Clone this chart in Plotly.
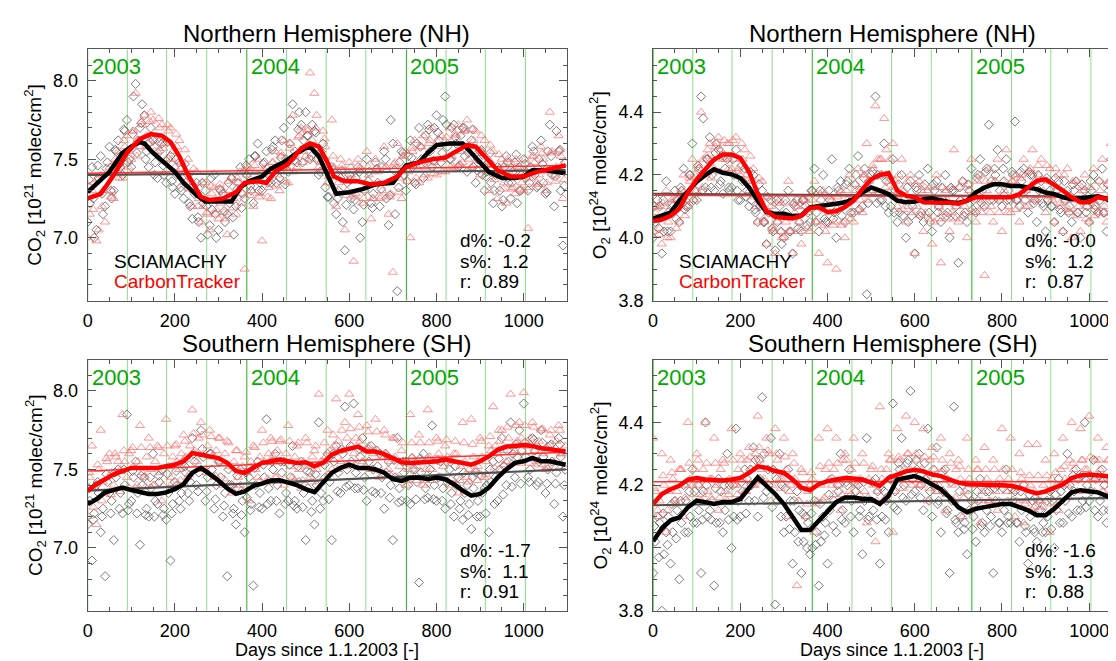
import plotly.graph_objects as go

FONT = "Liberation Sans, Arial, Helvetica, sans-serif"

# ---------------- data ----------------
sc_days = list(range(0, 1091, 10))          # scatter sample days (set a)
sc_days_b = list(range(5, 1096, 10))        # scatter sample days (set b)
sc_days_c = list(range(3, 1094, 10))        # scatter sample days (set c)
ln_days = list(range(0, 1081, 20)) + [1096]  # running-mean sample days

year_days = [0, 365, 731]
quarter_days = [91, 181, 273, 456, 547, 638, 822, 912, 1004]
year_labels = ["2003", "2004", "2005"]

# NH CO2
nh_co2_sci_days = [0, 50, 80, 100, 120, 130, 150, 170, 200, 220, 250, 270, 300, 330, 350, 370, 400, 420, 450, 480,
                   500, 510, 530, 550, 570, 600, 630, 660, 700, 730, 760, 780, 800, 830, 860, 880, 900, 920, 950, 980,
                   1000, 1020, 1050, 1096]
nh_co2_sci_line = [7.29, 7.42, 7.54, 7.58, 7.61, 7.60, 7.54, 7.49, 7.42, 7.35, 7.27, 7.23, 7.23, 7.23, 7.32, 7.36, 7.39, 7.44, 7.48, 7.54,
                   7.57, 7.58, 7.52, 7.40, 7.28, 7.29, 7.31, 7.34, 7.35, 7.46, 7.48, 7.54, 7.59, 7.60, 7.60, 7.54, 7.48, 7.42, 7.38, 7.38,
                   7.39, 7.43, 7.43, 7.41]
nh_co2_ct_days = [0, 30, 60, 90, 120, 145, 170, 190, 210, 230, 260, 280, 310, 340, 360, 390, 410, 430, 460, 490,
                  510, 530, 550, 565, 590, 620, 650, 680, 710, 730, 760, 790, 820, 850, 870, 890, 910, 940, 970, 1000,
                  1030, 1060, 1096]
nh_co2_ct_line = [7.25, 7.28, 7.40, 7.54, 7.63, 7.66, 7.65, 7.61, 7.52, 7.40, 7.26, 7.24, 7.25, 7.29, 7.35, 7.36, 7.35, 7.42, 7.47, 7.57,
                  7.60, 7.58, 7.48, 7.39, 7.36, 7.36, 7.34, 7.35, 7.39, 7.45, 7.48, 7.50, 7.51, 7.56, 7.59, 7.58, 7.52, 7.43, 7.39, 7.39,
                  7.42, 7.44, 7.46]
nh_co2_sci_pts = [7.10, 7.45, 7.05, 7.52, 7.20, 7.58, 7.30, 7.62, 7.40, 7.75,
                  7.45, 7.98, 7.70, 7.78, 7.45, 7.62, 7.38, 7.60, 7.35, 7.52,
                  7.28, 7.48, 7.25, 7.40, 7.12, 7.35, 7.00, 7.30, 7.08, 7.40,
                  7.05, 7.28, 7.15, 7.38, 7.20, 7.45, 7.25, 7.50, 7.22, 7.60,
                  7.30, 7.55, 7.35, 7.62, 7.38, 7.70, 7.42, 7.85, 7.48, 7.72,
                  7.80, 7.50, 7.68, 7.40, 7.60, 7.26, 7.45, 7.15, 7.38, 6.92,
                  7.40, 7.18, 7.45, 7.10, 7.50, 7.22, 7.48, 7.20, 7.55, 7.08,
                  7.60, 6.66, 7.55, 7.30, 7.62, 7.35, 7.70, 7.38, 7.72, 7.45,
                  7.78, 7.48, 7.90, 7.50, 7.72, 7.45, 7.70, 7.42, 7.62, 7.35,
                  7.55, 7.30, 7.48, 7.22, 7.45, 7.20, 7.52, 7.25, 7.48, 7.30,
                  7.50, 7.30, 7.58, 7.32, 7.62, 7.28, 7.72, 7.20, 7.55, 6.95]
nh_co2_sci_pts_b = [7.22, 7.00, 7.38, 7.15, 7.48, 7.25, 7.55, 7.45, 7.68, 7.50,
                    7.90, 7.62, 7.85, 7.55, 7.70, 7.48, 7.55, 7.40, 7.50, 7.32,
                    7.40, 7.30, 7.35, 7.20, 7.28, 7.10, 7.22, 7.02, 7.18, 7.00,
                    7.30, 7.10, 7.22, 7.02, 7.35, 7.28, 7.40, 7.30, 7.52, 7.35,
                    7.48, 7.40, 7.58, 7.45, 7.62, 7.50, 7.75, 7.55, 7.80, 7.62,
                    7.65, 7.72, 7.50, 7.55, 7.32, 7.40, 7.22, 7.30, 7.10, 7.35,
                    7.25, 7.38, 7.00, 7.30, 7.42, 7.28, 7.35, 7.45, 7.25, 7.75,
                    7.15, 7.48, 7.40, 7.52, 7.45, 7.60, 7.50, 7.65, 7.55, 7.70,
                    7.62, 7.75, 7.58, 7.70, 7.60, 7.65, 7.52, 7.58, 7.45, 7.50,
                    7.40, 7.42, 7.35, 7.40, 7.30, 7.45, 7.35, 7.42, 7.22, 7.40,
                    7.38, 7.45, 7.40, 7.50, 7.35, 7.55, 7.40, 7.68, 7.30, 7.48]
nh_co2_sci_pts_c = [7.37, 7.25, 7.46, 7.28, 7.44, 7.30, 7.56, 7.47, 7.69, 7.48,
                    7.66, 7.54, 7.73, 7.50, 7.61, 7.40, 7.61, 7.46, 7.61, 7.36,
                    7.50, 7.32, 7.47, 7.22, 7.33, 7.13, 7.35, 7.20, 7.38, 7.15,
                    7.31, 7.17, 7.35, 7.13, 7.31, 7.19, 7.46, 7.33, 7.52, 7.30,
                    7.47, 7.35, 7.56, 7.35, 7.51, 7.34, 7.60, 7.49, 7.69, 7.48,
                    7.65, 7.52, 7.67, 7.42, 7.50, 7.26, 7.43, 7.25, 7.43, 7.21,
                    7.37, 7.24, 7.42, 7.21, 7.36, 7.19, 7.44, 7.31, 7.50, 7.27,
                    7.43, 7.32, 7.54, 7.36, 7.51, 7.34, 7.58, 7.48, 7.69, 7.49,
                    7.67, 7.54, 7.72, 7.50, 7.64, 7.46, 7.70, 7.54, 7.69, 7.43,
                    7.56, 7.39, 7.54, 7.30, 7.43, 7.24, 7.48, 7.35, 7.53, 7.30,
                    7.47, 7.35, 7.55, 7.33, 7.47, 7.29, 7.52, 7.39, 7.56, 7.33]
nh_co2_ct_pts = [7.00, 7.30, 6.98, 7.40, 7.10, 7.45, 7.25, 7.55, 7.38, 7.65,
                 7.50, 7.92, 7.58, 7.78, 7.60, 7.75, 7.55, 7.72, 7.50, 7.70,
                 7.45, 7.62, 7.35, 7.50, 7.20, 7.42, 7.10, 7.35, 7.05, 7.32,
                 7.12, 7.30, 7.02, 7.38, 7.15, 7.42, 6.80, 7.45, 7.20, 7.50,
                 6.98, 7.45, 7.25, 7.55, 7.30, 7.62, 7.35, 7.78, 7.45, 7.70,
                 7.52, 8.05, 7.92, 7.45, 7.68, 7.35, 7.75, 7.20, 7.50, 7.05,
                 7.48, 6.85, 7.50, 7.22, 7.55, 7.12, 7.50, 7.25, 7.58, 7.15,
                 6.78, 7.60, 7.25, 7.55, 7.00, 7.62, 7.35, 7.65, 7.38, 7.70,
                 7.40, 7.65, 7.42, 7.70, 7.45, 7.72, 7.48, 7.75, 7.45, 7.68,
                 7.40, 7.62, 7.30, 7.55, 7.25, 7.50, 7.22, 7.48, 7.28, 7.45,
                 7.30, 7.06, 7.52, 7.35, 7.58, 7.30, 7.80, 7.40, 7.65, 7.25]
nh_co2_ct_pts_b = [7.15, 7.35, 7.05, 7.30, 7.40, 7.30, 7.48, 7.45, 7.58, 7.55,
                   7.68, 7.62, 7.72, 7.65, 7.80, 7.62, 7.70, 7.60, 7.68, 7.55,
                   7.58, 7.48, 7.42, 7.35, 7.30, 7.25, 7.20, 7.15, 7.28, 7.18,
                   7.22, 7.12, 7.30, 7.25, 7.35, 7.28, 7.40, 7.30, 7.42, 7.28,
                   7.40, 7.32, 7.48, 7.40, 7.52, 7.45, 7.60, 7.52, 7.65, 7.55,
                   7.68, 7.62, 7.78, 7.52, 7.58, 7.40, 7.45, 7.35, 7.42, 7.30,
                   7.40, 7.28, 7.45, 7.30, 7.40, 7.25, 7.42, 7.30, 7.45, 7.28,
                   7.48, 7.38, 7.52, 7.42, 7.55, 7.45, 7.58, 7.45, 7.62, 7.48,
                   7.58, 7.50, 7.60, 7.52, 7.65, 7.55, 7.68, 7.58, 7.62, 7.55,
                   7.55, 7.48, 7.48, 7.40, 7.45, 7.35, 7.42, 7.32, 7.45, 7.35,
                   7.42, 7.38, 7.48, 7.40, 7.50, 7.42, 7.55, 7.45, 7.52, 7.48]
nh_co2_ct_pts_c = [7.33, 7.18, 7.37, 7.20, 7.41, 7.26, 7.50, 7.38, 7.62, 7.45,
                   7.68, 7.52, 7.74, 7.58, 7.74, 7.55, 7.76, 7.57, 7.72, 7.50,
                   7.66, 7.44, 7.56, 7.31, 7.44, 7.20, 7.35, 7.16, 7.33, 7.15,
                   7.34, 7.16, 7.36, 7.19, 7.38, 7.22, 7.45, 7.27, 7.46, 7.26,
                   7.44, 7.26, 7.48, 7.33, 7.54, 7.36, 7.57, 7.42, 7.64, 7.48,
                   7.69, 7.50, 7.70, 7.48, 7.63, 7.39, 7.52, 7.29, 7.46, 7.27,
                   7.45, 7.26, 7.44, 7.25, 7.45, 7.25, 7.44, 7.26, 7.45, 7.26,
                   7.47, 7.29, 7.52, 7.36, 7.57, 7.38, 7.58, 7.40, 7.60, 7.41,
                   7.61, 7.42, 7.64, 7.45, 7.66, 7.47, 7.68, 7.50, 7.69, 7.49,
                   7.65, 7.43, 7.59, 7.37, 7.53, 7.31, 7.50, 7.31, 7.50, 7.31,
                   7.50, 7.32, 7.52, 7.34, 7.54, 7.35, 7.54, 7.36, 7.56, 7.37]
nh_co2_sci_trend = [7.40, 7.43]
nh_co2_ct_trend = [7.41, 7.46]

# NH O2
nh_o2_sci_line = [4.061, 4.070, 4.080, 4.118, 4.150, 4.178, 4.200, 4.218, 4.207, 4.202,
                  4.190, 4.160, 4.118, 4.082, 4.076, 4.076, 4.069, 4.071, 4.097, 4.100,
                  4.105, 4.108, 4.113, 4.123, 4.144, 4.160, 4.150, 4.139, 4.118, 4.113,
                  4.115, 4.123, 4.126, 4.118, 4.113, 4.111, 4.118, 4.144, 4.160, 4.170,
                  4.170, 4.165, 4.165, 4.160, 4.155, 4.144, 4.139, 4.129, 4.123, 4.126,
                  4.129, 4.132, 4.123, 4.105, 4.100, 4.100]
nh_o2_ct_line = [4.052, 4.058, 4.070, 4.092, 4.144, 4.186, 4.218, 4.249, 4.265, 4.265,
                 4.254, 4.210, 4.140, 4.085, 4.066, 4.064, 4.061, 4.070, 4.095, 4.097,
                 4.082, 4.084, 4.098, 4.118, 4.155, 4.186, 4.200, 4.206, 4.150, 4.134,
                 4.129, 4.113, 4.111, 4.111, 4.111, 4.108, 4.118, 4.129, 4.129, 4.129,
                 4.129, 4.129, 4.139, 4.160, 4.181, 4.186, 4.170, 4.150, 4.129, 4.113,
                 4.113, 4.129, 4.123, 4.126, 4.126, 4.126]
nh_o2_sci_pts = [4.00, 4.12, 3.95, 4.18, 4.02, 4.15, 4.05, 4.22, 4.10, 4.30,
                 4.12, 4.45, 4.16, 4.32, 4.15, 4.28, 4.14, 4.25, 4.16, 4.28,
                 4.12, 4.22, 4.10, 4.20, 4.05, 4.15, 3.98, 4.12, 3.96, 4.10,
                 4.00, 4.15, 3.95, 4.12, 4.02, 4.10, 4.05, 4.22, 4.02, 4.20,
                 4.05, 4.25, 4.00, 4.18, 4.05, 4.22, 4.08, 4.26, 4.10, 3.82,
                 4.20, 4.45, 4.12, 4.30, 4.08, 4.25, 4.05, 4.20, 4.00, 4.18,
                 3.95, 4.20, 4.05, 4.22, 4.02, 4.18, 4.05, 4.20, 4.00, 4.15,
                 3.92, 4.18, 4.05, 4.22, 4.08, 4.25, 4.10, 4.36, 4.12, 4.28,
                 4.10, 4.25, 4.12, 4.37, 4.10, 4.22, 4.08, 4.20, 4.05, 4.18,
                 4.02, 4.15, 4.05, 4.18, 4.02, 4.15, 4.05, 4.18, 4.00, 4.15,
                 4.05, 4.20, 4.08, 4.22, 4.02, 4.25, 3.95, 4.30, 4.05, 4.15]
nh_o2_sci_pts_b = [4.05, 4.10, 4.02, 4.08, 4.10, 4.12, 4.15, 4.10, 4.20, 4.15,
                   4.22, 4.38, 4.25, 4.20, 4.30, 4.18, 4.22, 4.15, 4.20, 4.12,
                   4.18, 4.15, 4.12, 4.08, 4.10, 4.05, 4.08, 4.02, 4.05, 3.98,
                   4.08, 4.02, 4.10, 4.05, 4.12, 4.08, 4.15, 4.08, 4.12, 4.05,
                   4.12, 4.08, 4.15, 4.10, 4.18, 4.12, 4.20, 4.15, 4.22, 4.18,
                   4.15, 4.20, 4.12, 4.18, 4.10, 4.15, 4.08, 4.12, 4.05, 4.10,
                   4.15, 4.08, 4.12, 4.05, 4.15, 4.10, 4.12, 4.08, 4.15, 4.10,
                   4.12, 4.08, 4.15, 4.12, 4.20, 4.15, 4.22, 4.18, 4.20, 4.15,
                   4.18, 4.15, 4.20, 4.12, 4.18, 4.15, 4.20, 4.12, 4.15, 4.10,
                   4.12, 4.10, 4.15, 4.08, 4.12, 4.10, 4.15, 4.08, 4.12, 4.10,
                   4.15, 4.10, 4.12, 4.08, 4.15, 4.10, 4.12, 4.08, 4.10, 4.05]
nh_o2_sci_pts_c = [4.10, 4.03, 4.12, 4.02, 4.11, 4.06, 4.16, 4.09, 4.20, 4.12,
                   4.23, 4.15, 4.25, 4.16, 4.27, 4.17, 4.26, 4.16, 4.25, 4.15,
                   4.23, 4.13, 4.21, 4.09, 4.17, 4.05, 4.13, 4.03, 4.12, 4.02,
                   4.12, 4.02, 4.11, 4.03, 4.12, 4.04, 4.15, 4.05, 4.15, 4.06,
                   4.15, 4.06, 4.16, 4.07, 4.17, 4.08, 4.17, 4.09, 4.19, 4.11,
                   4.21, 4.11, 4.20, 4.10, 4.19, 4.08, 4.17, 4.07, 4.16, 4.07,
                   4.16, 4.07, 4.17, 4.08, 4.17, 4.08, 4.16, 4.07, 4.16, 4.07,
                   4.16, 4.07, 4.17, 4.09, 4.19, 4.11, 4.21, 4.12, 4.22, 4.12,
                   4.22, 4.12, 4.21, 4.12, 4.21, 4.12, 4.21, 4.11, 4.20, 4.11,
                   4.19, 4.10, 4.19, 4.09, 4.18, 4.08, 4.17, 4.08, 4.17, 4.08,
                   4.18, 4.09, 4.18, 4.08, 4.17, 4.07, 4.15, 4.05, 4.15, 4.06]
nh_o2_ct_pts = [4.02, 4.10, 3.98, 4.15, 4.00, 4.12, 4.05, 4.20, 4.10, 4.25,
                4.15, 4.40, 4.20, 4.30, 4.22, 4.32, 4.25, 4.30, 4.22, 4.32,
                4.20, 4.28, 4.15, 4.22, 4.05, 4.18, 3.98, 4.10, 3.95, 4.12,
                4.00, 4.18, 3.95, 4.10, 3.98, 4.12, 4.02, 4.18, 3.95, 4.15,
                3.92, 4.12, 3.90, 4.15, 4.00, 4.20, 4.05, 4.22, 4.08, 4.30,
                4.15, 4.42, 4.25, 4.38, 4.18, 4.30, 4.10, 4.25, 4.05, 4.20,
                3.95, 4.18, 4.02, 4.15, 3.98, 4.20, 3.92, 4.15, 4.02, 4.28,
                4.05, 4.18, 4.00, 4.25, 4.05, 4.20, 3.88, 4.22, 4.05, 4.25,
                4.02, 4.28, 4.08, 4.20, 4.05, 4.25, 4.10, 4.28, 4.12, 4.25,
                4.08, 4.22, 4.05, 4.20, 4.02, 4.22, 4.00, 4.18, 4.02, 4.20,
                4.05, 4.22, 4.08, 4.25, 4.05, 4.30, 4.08, 4.35, 4.10, 4.20]
nh_o2_ct_pts_b = [4.08, 4.03, 4.10, 4.05, 4.08, 4.12, 4.15, 4.12, 4.18, 4.20,
                  4.22, 4.25, 4.28, 4.25, 4.30, 4.28, 4.25, 4.30, 4.25, 4.22,
                  4.25, 4.20, 4.18, 4.10, 4.12, 4.05, 4.08, 4.02, 4.05, 4.00,
                  4.05, 4.02, 4.08, 4.05, 4.10, 4.08, 4.12, 4.05, 4.10, 4.02,
                  4.08, 4.05, 4.10, 4.05, 4.12, 4.08, 4.15, 4.12, 4.20, 4.18,
                  4.22, 4.25, 4.20, 4.28, 4.15, 4.18, 4.12, 4.15, 4.10, 4.12,
                  4.10, 4.15, 4.08, 4.12, 4.05, 4.10, 4.08, 4.12, 4.08, 4.10,
                  4.12, 4.10, 4.15, 4.08, 4.12, 4.10, 4.15, 4.10, 4.18, 4.12,
                  4.15, 4.10, 4.18, 4.12, 4.20, 4.15, 4.22, 4.18, 4.20, 4.15,
                  4.18, 4.12, 4.15, 4.10, 4.12, 4.08, 4.12, 4.10, 4.15, 4.10,
                  4.12, 4.10, 4.15, 4.10, 4.18, 4.12, 4.15, 4.10, 4.18, 4.12]
nh_o2_ct_pts_c = [4.10, 4.01, 4.11, 4.00, 4.12, 4.03, 4.14, 4.07, 4.19, 4.12,
                  4.23, 4.16, 4.26, 4.19, 4.29, 4.21, 4.31, 4.22, 4.31, 4.21,
                  4.30, 4.18, 4.26, 4.13, 4.19, 4.06, 4.13, 4.03, 4.11, 4.02,
                  4.11, 4.02, 4.11, 4.02, 4.12, 4.03, 4.14, 4.05, 4.14, 4.04,
                  4.13, 4.04, 4.13, 4.04, 4.15, 4.06, 4.17, 4.09, 4.20, 4.12,
                  4.23, 4.15, 4.25, 4.16, 4.25, 4.13, 4.20, 4.09, 4.18, 4.08,
                  4.17, 4.07, 4.16, 4.06, 4.16, 4.06, 4.16, 4.06, 4.16, 4.06,
                  4.16, 4.07, 4.17, 4.08, 4.18, 4.08, 4.18, 4.08, 4.18, 4.08,
                  4.18, 4.08, 4.18, 4.09, 4.19, 4.10, 4.21, 4.12, 4.23, 4.14,
                  4.23, 4.13, 4.22, 4.11, 4.20, 4.09, 4.18, 4.07, 4.16, 4.06,
                  4.16, 4.07, 4.18, 4.08, 4.17, 4.08, 4.17, 4.08, 4.17, 4.08]
nh_o2_sci_trend = [4.140, 4.130]
nh_o2_ct_trend = [4.135, 4.130]

# SH CO2
sh_co2_sci_line = [7.280, 7.310, 7.354, 7.369, 7.385, 7.369, 7.354, 7.344, 7.344, 7.354,
                   7.375, 7.406, 7.479, 7.510, 7.470, 7.430, 7.380, 7.345, 7.360, 7.395,
                   7.410, 7.430, 7.432, 7.415, 7.400, 7.375, 7.355, 7.417, 7.479, 7.510,
                   7.531, 7.510, 7.510, 7.500, 7.479, 7.438, 7.427, 7.448, 7.448, 7.438,
                   7.448, 7.438, 7.406, 7.365, 7.333, 7.344, 7.385, 7.448, 7.500, 7.542,
                   7.552, 7.573, 7.552, 7.552, 7.542, 7.530]
sh_co2_ct_line = [7.365, 7.406, 7.438, 7.469, 7.490, 7.510, 7.510, 7.510, 7.510, 7.520,
                  7.531, 7.552, 7.604, 7.594, 7.583, 7.573, 7.542, 7.490, 7.479, 7.510,
                  7.542, 7.552, 7.563, 7.552, 7.542, 7.546, 7.520, 7.542, 7.594, 7.619,
                  7.635, 7.646, 7.615, 7.615, 7.598, 7.573, 7.546, 7.542, 7.548, 7.548,
                  7.552, 7.563, 7.552, 7.542, 7.531, 7.552, 7.583, 7.625, 7.646, 7.650,
                  7.656, 7.650, 7.635, 7.629, 7.625, 7.615]
sh_co2_sci_pts = [7.15, 6.92, 7.40, 7.10, 6.82, 7.35, 7.05, 7.50, 7.22, 7.85,
                  7.30, 7.55, 7.02, 7.45, 7.20, 7.60, 7.28, 7.50, 7.18, 6.92,
                  7.42, 7.30, 7.55, 7.35, 7.70, 7.40, 7.75, 7.30, 7.60, 7.25,
                  7.55, 7.20, 6.82, 7.40, 7.15, 7.50, 7.10, 7.45, 6.76, 7.55,
                  7.25, 7.82, 7.30, 7.60, 7.22, 7.55, 7.30, 7.65, 7.25, 7.55,
                  7.05, 7.48, 7.15, 7.80, 7.30, 7.60, 7.05, 7.65, 7.35, 7.90,
                  7.40, 7.92, 7.38, 7.70, 7.30, 7.65, 7.35, 7.60, 7.25, 7.55,
                  7.05, 7.70, 7.30, 7.55, 7.28, 7.50, 6.78, 7.60, 7.32, 7.78,
                  7.30, 7.55, 7.25, 7.50, 7.20, 7.45, 7.18, 7.40, 7.12, 7.48,
                  7.20, 7.38, 7.10, 7.55, 7.30, 7.70, 7.40, 7.80, 7.45, 7.75,
                  7.92, 7.45, 7.70, 7.40, 7.75, 7.35, 7.65, 7.28, 7.70, 7.20]
sh_co2_sci_pts_b = [7.30, 7.22, 7.35, 7.25, 7.42, 7.30, 7.45, 7.35, 7.40, 7.28,
                    7.45, 7.35, 7.40, 7.25, 7.38, 7.30, 7.42, 7.25, 7.35, 7.28,
                    7.40, 7.35, 7.48, 7.42, 7.55, 7.48, 7.58, 7.45, 7.50, 7.40,
                    7.45, 7.35, 7.40, 7.25, 7.38, 7.30, 7.32, 7.28, 7.40, 7.35,
                    7.45, 7.38, 7.50, 7.40, 7.48, 7.35, 7.45, 7.30, 7.42, 7.35,
                    7.38, 7.30, 7.40, 7.35, 7.45, 7.42, 7.55, 7.48, 7.60, 7.50,
                    7.55, 7.48, 7.58, 7.45, 7.55, 7.50, 7.52, 7.45, 7.48, 7.40,
                    7.45, 7.38, 7.48, 7.40, 7.50, 7.42, 7.48, 7.38, 7.50, 7.40,
                    7.45, 7.38, 7.42, 7.35, 7.40, 7.30, 7.35, 7.28, 7.38, 7.30,
                    7.35, 7.40, 7.42, 7.45, 7.50, 7.52, 7.55, 7.60, 7.58, 7.62,
                    7.58, 7.50, 7.62, 7.55, 7.58, 7.50, 7.55, 7.48, 7.58, 7.50]
sh_co2_sci_pts_c = [7.38, 7.18, 7.42, 7.20, 7.47, 7.22, 7.48, 7.25, 7.50, 7.24,
                    7.49, 7.22, 7.46, 7.21, 7.45, 7.20, 7.46, 7.21, 7.47, 7.22,
                    7.49, 7.25, 7.52, 7.30, 7.60, 7.36, 7.63, 7.36, 7.60, 7.31,
                    7.55, 7.27, 7.50, 7.22, 7.46, 7.21, 7.48, 7.24, 7.51, 7.26,
                    7.53, 7.28, 7.55, 7.30, 7.55, 7.28, 7.53, 7.27, 7.52, 7.26,
                    7.49, 7.23, 7.47, 7.25, 7.53, 7.31, 7.60, 7.36, 7.63, 7.39,
                    7.65, 7.38, 7.63, 7.37, 7.63, 7.36, 7.62, 7.35, 7.60, 7.32,
                    7.56, 7.29, 7.55, 7.30, 7.57, 7.31, 7.57, 7.31, 7.56, 7.31,
                    7.56, 7.30, 7.55, 7.28, 7.52, 7.25, 7.48, 7.21, 7.45, 7.20,
                    7.46, 7.22, 7.50, 7.28, 7.57, 7.34, 7.62, 7.39, 7.66, 7.41,
                    7.67, 7.42, 7.69, 7.42, 7.67, 7.41, 7.66, 7.41, 7.66, 7.40]
sh_co2_ct_pts = [7.20, 7.65, 7.15, 7.75, 7.35, 7.60, 7.40, 7.55, 7.85, 7.45,
                 7.62, 7.38, 7.78, 7.45, 7.70, 7.40, 7.65, 7.30, 7.82, 7.45,
                 7.65, 7.50, 7.72, 7.45, 7.88, 7.55, 7.80, 7.50, 7.75, 7.45,
                 7.70, 7.40, 7.68, 7.35, 7.62, 7.40, 7.58, 7.30, 7.65, 7.45,
                 7.75, 7.42, 7.70, 7.45, 7.68, 7.40, 7.78, 7.45, 7.65, 7.38,
                 7.70, 7.45, 7.62, 7.98, 7.55, 7.75, 7.50, 7.95, 7.55, 7.80,
                 7.98, 7.60, 7.85, 7.55, 7.78, 7.50, 7.82, 7.45, 7.75, 7.50,
                 7.70, 7.45, 7.62, 7.40, 7.85, 7.45, 7.72, 7.40, 7.88, 7.50,
                 7.70, 7.45, 7.65, 7.40, 7.60, 7.35, 7.80, 7.45, 7.82, 7.50,
                 7.70, 7.45, 7.65, 7.90, 7.60, 7.75, 7.55, 7.98, 7.62, 7.80,
                 7.99, 7.65, 7.80, 7.55, 7.75, 7.50, 7.72, 7.55, 7.78, 7.60]
sh_co2_ct_pts_b = [7.45, 7.38, 7.50, 7.42, 7.55, 7.48, 7.58, 7.50, 7.55, 7.60,
                   7.52, 7.55, 7.48, 7.58, 7.50, 7.55, 7.48, 7.60, 7.52, 7.58,
                   7.55, 7.60, 7.58, 7.65, 7.62, 7.70, 7.60, 7.65, 7.58, 7.62,
                   7.55, 7.60, 7.52, 7.55, 7.45, 7.52, 7.48, 7.55, 7.50, 7.58,
                   7.55, 7.60, 7.58, 7.62, 7.55, 7.60, 7.52, 7.58, 7.50, 7.55,
                   7.52, 7.58, 7.50, 7.55, 7.58, 7.62, 7.65, 7.68, 7.62, 7.70,
                   7.65, 7.70, 7.68, 7.62, 7.65, 7.60, 7.62, 7.58, 7.60, 7.55,
                   7.58, 7.52, 7.55, 7.50, 7.58, 7.52, 7.55, 7.50, 7.58, 7.55,
                   7.60, 7.52, 7.58, 7.55, 7.60, 7.52, 7.55, 7.50, 7.58, 7.52,
                   7.58, 7.55, 7.62, 7.65, 7.68, 7.62, 7.70, 7.65, 7.68, 7.70,
                   7.65, 7.70, 7.62, 7.68, 7.60, 7.65, 7.62, 7.68, 7.60, 7.65]
sh_co2_ct_pts_c = [7.48, 7.26, 7.53, 7.30, 7.57, 7.34, 7.60, 7.36, 7.62, 7.39,
                   7.64, 7.40, 7.64, 7.39, 7.64, 7.40, 7.64, 7.40, 7.65, 7.41,
                   7.66, 7.43, 7.68, 7.47, 7.73, 7.50, 7.72, 7.48, 7.71, 7.46,
                   7.70, 7.44, 7.67, 7.40, 7.62, 7.37, 7.61, 7.39, 7.64, 7.42,
                   7.67, 7.44, 7.68, 7.45, 7.69, 7.44, 7.68, 7.43, 7.67, 7.43,
                   7.67, 7.42, 7.65, 7.42, 7.67, 7.47, 7.72, 7.50, 7.75, 7.52,
                   7.76, 7.53, 7.77, 7.51, 7.74, 7.50, 7.74, 7.49, 7.72, 7.47,
                   7.70, 7.44, 7.67, 7.43, 7.67, 7.43, 7.67, 7.43, 7.67, 7.43,
                   7.68, 7.45, 7.69, 7.44, 7.68, 7.43, 7.67, 7.42, 7.66, 7.43,
                   7.68, 7.47, 7.71, 7.51, 7.75, 7.53, 7.77, 7.54, 7.78, 7.54,
                   7.78, 7.54, 7.77, 7.53, 7.76, 7.52, 7.75, 7.51, 7.75, 7.51]
sh_co2_sci_trend = [7.365, 7.500]
sh_co2_ct_trend = [7.490, 7.610]

# SH O2
sh_o2_sci_line = [4.021, 4.062, 4.088, 4.097, 4.130, 4.151, 4.146, 4.140, 4.146, 4.146,
                  4.156, 4.192, 4.225, 4.198, 4.172, 4.140, 4.099, 4.057, 4.057, 4.088,
                  4.120, 4.146, 4.161, 4.161, 4.156, 4.156, 4.140, 4.166, 4.218, 4.223,
                  4.229, 4.218, 4.203, 4.187, 4.161, 4.130, 4.114, 4.125, 4.130, 4.135,
                  4.140, 4.140, 4.130, 4.120, 4.104, 4.104, 4.125, 4.151, 4.177, 4.184,
                  4.180, 4.177, 4.166, 4.156, 4.156, 4.156]
sh_o2_ct_line = [4.140, 4.172, 4.187, 4.198, 4.218, 4.223, 4.218, 4.215, 4.215, 4.218,
                 4.223, 4.239, 4.260, 4.255, 4.245, 4.239, 4.218, 4.192, 4.184, 4.203,
                 4.213, 4.218, 4.223, 4.221, 4.218, 4.208, 4.198, 4.223, 4.234, 4.244,
                 4.249, 4.244, 4.234, 4.229, 4.218, 4.208, 4.203, 4.203, 4.203, 4.200,
                 4.200, 4.198, 4.192, 4.182, 4.174, 4.180, 4.192, 4.203, 4.223, 4.231,
                 4.234, 4.231, 4.229, 4.223, 4.223, 4.223]
sh_o2_sci_pts = [3.92, 4.10, 3.80, 4.05, 3.95, 4.15, 3.90, 4.20, 4.05, 4.25,
                 4.08, 3.92, 4.40, 4.12, 3.88, 4.22, 4.05, 4.30, 4.00, 4.38,
                 4.10, 4.25, 4.15, 4.32, 4.10, 4.48, 4.18, 4.35, 3.82, 4.30,
                 4.05, 4.25, 3.95, 4.18, 3.92, 4.10, 3.98, 4.15, 3.88, 4.10,
                 3.95, 4.22, 4.05, 4.30, 4.08, 4.25, 4.05, 4.20, 3.98, 4.35,
                 4.05, 4.22, 3.95, 4.18, 4.05, 4.46, 4.12, 4.35, 4.15, 4.50,
                 4.18, 4.30, 4.12, 4.38, 4.10, 4.32, 4.05, 4.25, 3.92, 4.45,
                 4.05, 4.20, 3.98, 4.15, 4.02, 4.22, 4.05, 4.18, 3.92, 4.20,
                 4.05, 4.25, 4.08, 4.18, 4.02, 4.20, 3.95, 4.15, 4.02, 4.12,
                 4.05, 4.18, 4.00, 4.22, 4.08, 4.30, 4.10, 4.25, 4.12, 4.40,
                 4.15, 4.28, 4.10, 4.25, 4.08, 4.22, 3.98, 4.20, 4.05, 4.15]
sh_o2_sci_pts_b = [4.02, 4.08, 3.98, 4.10, 4.05, 4.12, 4.08, 4.15, 4.10, 4.18,
                   4.12, 4.18, 4.10, 4.15, 4.08, 4.18, 4.12, 4.20, 4.10, 4.15,
                   4.18, 4.22, 4.20, 4.28, 4.22, 4.30, 4.20, 4.25, 4.15, 4.20,
                   4.10, 4.15, 4.05, 4.12, 4.02, 4.08, 4.00, 4.05, 4.02, 4.08,
                   4.12, 4.15, 4.18, 4.12, 4.20, 4.15, 4.18, 4.12, 4.15, 4.10,
                   4.12, 4.18, 4.10, 4.15, 4.22, 4.18, 4.25, 4.20, 4.28, 4.22,
                   4.25, 4.20, 4.22, 4.18, 4.20, 4.15, 4.18, 4.12, 4.15, 4.08,
                   4.10, 4.08, 4.12, 4.10, 4.15, 4.08, 4.12, 4.10, 4.15, 4.08,
                   4.12, 4.10, 4.15, 4.08, 4.12, 4.05, 4.10, 4.05, 4.12, 4.08,
                   4.10, 4.15, 4.12, 4.18, 4.15, 4.20, 4.18, 4.22, 4.15, 4.20,
                   4.18, 4.22, 4.15, 4.20, 4.12, 4.18, 4.12, 4.15, 4.10, 4.18]
sh_o2_sci_pts_c = [4.07, 3.97, 4.11, 4.01, 4.14, 4.03, 4.15, 4.05, 4.18, 4.08,
                   4.20, 4.09, 4.20, 4.09, 4.19, 4.08, 4.20, 4.09, 4.20, 4.09,
                   4.21, 4.11, 4.25, 4.15, 4.28, 4.16, 4.25, 4.13, 4.22, 4.10,
                   4.19, 4.06, 4.15, 4.02, 4.11, 4.00, 4.11, 4.01, 4.14, 4.04,
                   4.17, 4.07, 4.20, 4.09, 4.21, 4.10, 4.21, 4.10, 4.21, 4.09,
                   4.21, 4.09, 4.19, 4.09, 4.22, 4.13, 4.27, 4.16, 4.27, 4.17,
                   4.28, 4.16, 4.27, 4.15, 4.25, 4.14, 4.24, 4.11, 4.21, 4.09,
                   4.18, 4.06, 4.17, 4.06, 4.18, 4.07, 4.18, 4.07, 4.19, 4.08,
                   4.19, 4.08, 4.19, 4.08, 4.18, 4.07, 4.17, 4.06, 4.15, 4.05,
                   4.15, 4.06, 4.17, 4.08, 4.20, 4.11, 4.23, 4.12, 4.23, 4.13,
                   4.23, 4.12, 4.23, 4.12, 4.22, 4.11, 4.21, 4.10, 4.21, 4.10]
sh_o2_ct_pts = [4.35, 4.12, 4.30, 4.05, 4.28, 4.15, 4.25, 4.10, 4.40, 4.20,
                4.30, 4.15, 4.40, 4.22, 4.35, 4.12, 4.28, 4.15, 4.38, 4.20,
                4.30, 4.18, 4.32, 4.20, 4.42, 4.25, 4.35, 4.15, 4.38, 4.22,
                4.35, 4.10, 4.30, 3.88, 4.25, 4.10, 4.20, 4.05, 4.35, 4.15,
                4.38, 4.20, 4.35, 4.12, 4.30, 4.18, 4.35, 4.15, 4.30, 4.08,
                4.25, 4.02, 4.45, 4.15, 4.30, 4.05, 4.38, 4.22, 4.42, 4.25,
                4.40, 4.20, 4.38, 4.15, 4.32, 4.18, 4.35, 4.12, 4.30, 4.15,
                4.28, 4.10, 4.35, 4.12, 4.28, 4.08, 4.32, 4.15, 4.28, 4.12,
                4.38, 4.18, 4.35, 4.10, 4.30, 4.08, 4.33, 4.12, 4.33, 4.15,
                4.28, 4.05, 4.30, 4.12, 4.35, 4.20, 4.40, 4.22, 4.38, 4.25,
                4.42, 4.22, 4.35, 4.18, 4.32, 4.20, 4.30, 4.22, 4.28, 4.20]
sh_o2_ct_pts_b = [4.18, 4.15, 4.20, 4.18, 4.22, 4.18, 4.25, 4.20, 4.22, 4.25,
                  4.20, 4.25, 4.18, 4.22, 4.20, 4.25, 4.18, 4.22, 4.20, 4.25,
                  4.22, 4.28, 4.25, 4.30, 4.28, 4.22, 4.30, 4.25, 4.28, 4.22,
                  4.25, 4.20, 4.22, 4.15, 4.20, 4.18, 4.22, 4.15, 4.20, 4.25,
                  4.22, 4.25, 4.20, 4.28, 4.22, 4.25, 4.20, 4.22, 4.18, 4.22,
                  4.20, 4.18, 4.22, 4.25, 4.28, 4.22, 4.28, 4.25, 4.30, 4.22,
                  4.28, 4.25, 4.22, 4.28, 4.25, 4.20, 4.25, 4.22, 4.20, 4.25,
                  4.22, 4.18, 4.22, 4.20, 4.25, 4.18, 4.22, 4.20, 4.18, 4.22,
                  4.20, 4.22, 4.18, 4.20, 4.22, 4.15, 4.20, 4.18, 4.15, 4.20,
                  4.18, 4.22, 4.20, 4.25, 4.22, 4.28, 4.25, 4.22, 4.28, 4.25,
                  4.22, 4.28, 4.25, 4.22, 4.28, 4.25, 4.22, 4.28, 4.25, 4.20]
sh_o2_ct_pts_c = [4.19, 4.10, 4.23, 4.12, 4.24, 4.14, 4.25, 4.16, 4.27, 4.17,
                  4.28, 4.17, 4.27, 4.16, 4.27, 4.16, 4.27, 4.17, 4.28, 4.17,
                  4.28, 4.18, 4.29, 4.20, 4.32, 4.21, 4.31, 4.20, 4.30, 4.19,
                  4.29, 4.18, 4.27, 4.15, 4.24, 4.14, 4.24, 4.14, 4.26, 4.16,
                  4.27, 4.17, 4.27, 4.17, 4.28, 4.17, 4.27, 4.17, 4.27, 4.16,
                  4.26, 4.15, 4.25, 4.16, 4.28, 4.18, 4.29, 4.19, 4.30, 4.20,
                  4.30, 4.20, 4.29, 4.19, 4.29, 4.18, 4.28, 4.17, 4.27, 4.16,
                  4.26, 4.16, 4.25, 4.15, 4.25, 4.15, 4.25, 4.15, 4.25, 4.15,
                  4.25, 4.15, 4.25, 4.15, 4.24, 4.14, 4.23, 4.13, 4.23, 4.13,
                  4.23, 4.14, 4.24, 4.15, 4.26, 4.16, 4.27, 4.18, 4.28, 4.18,
                  4.29, 4.18, 4.28, 4.18, 4.28, 4.18, 4.28, 4.18, 4.28, 4.18]
sh_o2_sci_trend = [4.136, 4.160]
sh_o2_ct_trend = [4.211, 4.211]

trend_days = [0, 1096]

titles = ["Northern Hemisphere (NH)", "Northern Hemisphere (NH)",
          "Southern Hemisphere (SH)", "Southern Hemisphere (SH)"]
stat_d = ["-0.2", "-0.0", "-1.7", "-1.6"]
stat_s = ["1.2", "1.2", "1.1", "1.3"]
stat_r = ["0.89", "0.87", "0.91", "0.88"]

co2_title = "CO<sub>2</sub> [10<sup>21</sup> molec/cm<sup>2</sup>]"
o2_title = "O<sub>2</sub> [10<sup>24</sup> molec/cm<sup>2</sup>]"
xlabel = "Days since 1.1.2003 [-]"

all_sc_days = sc_days + sc_days_b + sc_days_c
panels = [
    dict(sci_x=nh_co2_sci_days, sci_l=nh_co2_sci_line, ct_x=nh_co2_ct_days, ct_l=nh_co2_ct_line,
         sci_p=nh_co2_sci_pts + nh_co2_sci_pts_b + nh_co2_sci_pts_c,
         ct_p=nh_co2_ct_pts + nh_co2_ct_pts_b + nh_co2_ct_pts_c,
         sci_t=nh_co2_sci_trend, ct_t=nh_co2_ct_trend),
    dict(sci_x=ln_days, sci_l=nh_o2_sci_line, ct_x=ln_days, ct_l=nh_o2_ct_line,
         sci_p=nh_o2_sci_pts + nh_o2_sci_pts_b + nh_o2_sci_pts_c,
         ct_p=nh_o2_ct_pts + nh_o2_ct_pts_b + nh_o2_ct_pts_c,
         sci_t=nh_o2_sci_trend, ct_t=nh_o2_ct_trend),
    dict(sci_x=ln_days, sci_l=sh_co2_sci_line, ct_x=ln_days, ct_l=sh_co2_ct_line,
         sci_p=sh_co2_sci_pts + sh_co2_sci_pts_b + sh_co2_sci_pts_c,
         ct_p=sh_co2_ct_pts + sh_co2_ct_pts_b + sh_co2_ct_pts_c,
         sci_t=sh_co2_sci_trend, ct_t=sh_co2_ct_trend),
    dict(sci_x=ln_days, sci_l=sh_o2_sci_line, ct_x=ln_days, ct_l=sh_o2_ct_line,
         sci_p=sh_o2_sci_pts + sh_o2_sci_pts_b + sh_o2_sci_pts_c,
         ct_p=sh_o2_ct_pts + sh_o2_ct_pts_b + sh_o2_ct_pts_c,
         sci_t=sh_o2_sci_trend, ct_t=sh_o2_ct_trend),
]

# ---------------- layout geometry (pixels) ----------------
W, H = 1116, 661
PX_PER_DAY = 0.438
cols = [(75, 556), (643, 1116)]
rows = [(42, 297), (357, 612)]
AX = "#555555"
STAT_Y = [0.239, 0.157, 0.075]

fig = go.Figure()
annotations = []
shapes = []
layout_axes = {}

for i, p in enumerate(panels):
    r, c = divmod(i, 2)
    n = "" if i == 0 else str(i + 1)
    xa, ya = "x" + n, "y" + n
    x0p, x1p = cols[c]
    y0p, y1p = rows[r]
    xmax = (x1p - x0p) / PX_PER_DAY
    is_co2 = (c == 0)

    fig.add_trace(go.Scatter(x=all_sc_days, y=p["sci_p"], mode="markers", xaxis=xa, yaxis=ya,
                             marker=dict(symbol="diamond-open", size=7, color="rgba(90,90,90,0.8)",
                                         line=dict(width=1)), showlegend=False))
    fig.add_trace(go.Scatter(x=all_sc_days, y=p["ct_p"], mode="markers", xaxis=xa, yaxis=ya,
                             marker=dict(symbol="triangle-up-open", size=8, color="rgba(255,105,105,0.7)",
                                         line=dict(width=1)), showlegend=False))
    fig.add_trace(go.Scatter(x=trend_days, y=p["sci_t"], mode="lines", xaxis=xa, yaxis=ya,
                             line=dict(color="#505050", width=2.2), showlegend=False))
    fig.add_trace(go.Scatter(x=trend_days, y=p["ct_t"], mode="lines", xaxis=xa, yaxis=ya,
                             line=dict(color="#ff3030", width=1.5), showlegend=False))
    fig.add_trace(go.Scatter(x=p["sci_x"], y=p["sci_l"], mode="lines", xaxis=xa, yaxis=ya,
                             line=dict(color="black", width=4.5), showlegend=False))
    fig.add_trace(go.Scatter(x=p["ct_x"], y=p["ct_l"], mode="lines", xaxis=xa, yaxis=ya,
                             line=dict(color="#ff0000", width=4.5), showlegend=False))

    if is_co2:
        yr, tv, mdt = [6.6, 8.2], [7.0, 7.5, 8.0], 0.1
        ytitle = co2_title
    else:
        yr, tv, mdt = [3.8, 4.6], [3.8, 4.0, 4.2, 4.4], 0.05
        ytitle = o2_title

    common = dict(showline=True, linecolor=AX, linewidth=1, ticks="inside", ticklen=8,
                  tickcolor=AX, showgrid=False, zeroline=False,
                  tickfont=dict(family=FONT, size=18, color="black"))
    layout_axes["xaxis" + n] = dict(
        domain=[x0p / W, x1p / W], range=[0, xmax], anchor=ya, mirror="ticks",
        tickvals=[0, 200, 400, 600, 800, 1000], ticklabelstandoff=4,
        minor=dict(dtick=50, tick0=0, ticks="inside", ticklen=4, tickcolor=AX),
        **common)
    layout_axes["yaxis" + n] = dict(
        domain=[1 - y1p / H, 1 - y0p / H], range=yr, anchor=xa,
        mirror="ticks" if c == 0 else False,
        tickvals=tv, tickformat=".1f", ticklabelstandoff=5,
        minor=dict(dtick=mdt, tick0=yr[0], ticks="inside", ticklen=4, tickcolor=AX),
        **common)

    # green year / quarter lines
    for d in quarter_days:
        shapes.append(dict(type="line", xref=xa, yref=ya + " domain", x0=d, x1=d, y0=0, y1=1,
                           line=dict(color="#8fdc8f", width=1), layer="below"))
    for d in year_days:
        shapes.append(dict(type="line", xref=xa, yref=ya + " domain", x0=d, x1=d, y0=0, y1=1,
                           line=dict(color="#22b422", width=1), layer="below"))
    for d, lab in zip(year_days, year_labels):
        annotations.append(dict(x=d, y=1, xref=xa, yref=ya + " domain", text=lab, showarrow=False,
                                xanchor="left", yanchor="top", xshift=2, yshift=-3,
                                font=dict(family=FONT, size=22, color="#00aa00")))

    # titles
    cx = (x0p + x0p + 1096 * PX_PER_DAY) / 2 / W
    annotations.append(dict(x=cx, y=1 - (y0p - 16) / H, xref="paper", yref="paper", text=titles[i],
                            showarrow=False, xanchor="center", yanchor="middle",
                            font=dict(family=FONT, size=24, color="black")))
    # y title
    annotations.append(dict(x=(x0p - 53) / W, y=1 - (y0p + y1p) / 2 / H, xref="paper", yref="paper",
                            text=ytitle, textangle=-90, showarrow=False, xanchor="center", yanchor="middle",
                            font=dict(family=FONT, size=19, color="black")))
    if r == 1:
        annotations.append(dict(x=cx, y=1 - 652 / H, xref="paper", yref="paper", text=xlabel,
                                showarrow=False, xanchor="center", yanchor="middle",
                                font=dict(family=FONT, size=18, color="black")))

    # stats
    for k, txt in enumerate(["d%:\u00a0" + stat_d[i], "s%:\u00a0\u00a0" + stat_s[i], "r:\u00a0\u00a0" + stat_r[i]]):
        annotations.append(dict(x=849, y=STAT_Y[k], xref=xa, yref=ya + " domain", text=txt,
                                showarrow=False, xanchor="left", yanchor="middle",
                                font=dict(family=FONT, size=19, color="black")))
    if r == 0:
        annotations.append(dict(x=55, y=STAT_Y[1], xref=xa, yref=ya + " domain", text="SCIAMACHY",
                                showarrow=False, xanchor="left", yanchor="middle",
                                font=dict(family=FONT, size=19, color="black")))
        annotations.append(dict(x=55, y=STAT_Y[2], xref=xa, yref=ya + " domain", text="CarbonTracker",
                                showarrow=False, xanchor="left", yanchor="middle",
                                font=dict(family=FONT, size=19, color="#ff0000")))

fig.update_layout(width=W, height=H, margin=dict(l=0, r=0, t=0, b=0),
                  paper_bgcolor="white", plot_bgcolor="white",
                  annotations=annotations, shapes=shapes, showlegend=False,
                  font=dict(family=FONT, color="black"), **layout_axes)

fig.write_html("out.html")
